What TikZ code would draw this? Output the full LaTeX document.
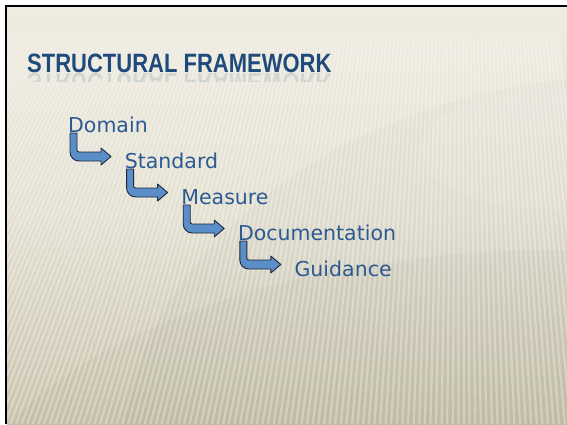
\documentclass[tikz,border=0pt]{standalone}
\usepackage{fontspec}
\usepackage{graphicx}
\usetikzlibrary{fadings,calc}
\newfontfamily\bodyfont{DejaVu Sans}
\newfontfamily\headfont{Liberation Sans}

\definecolor{bgtop}{HTML}{EEEBE0}
\definecolor{bgbot}{HTML}{C8C3AC}
\definecolor{headblue}{HTML}{1F4A7C}
\definecolor{textblue}{HTML}{2C5A91}
\definecolor{arrowfill}{HTML}{5B8DC8}
\definecolor{arrowline}{HTML}{1C2A3C}

\tikzset{
  stripe/.style={white, opacity=0.30, line width=2.2bp},
  item/.style={anchor=base west, inner sep=0pt, text=textblue,
               font=\bodyfont\fontsize{20.5bp}{24bp}\selectfont},
  headline/.style={anchor=base west, inner sep=0pt, text=headblue,
               font=\headfont\bfseries\fontsize{26.5bp}{30bp}\selectfont},
  bentarrow/.style={fill=arrowfill, draw=arrowline, line width=0.9bp, line join=round}
}

% bent arrow hanging below one item and pointing at the next
\newcommand{\stairarrow}[2]{%
  \path let \p1=($(#1.base west)+(2,1)$) in
    coordinate (o) at (\p1);
  \draw[bentarrow] (o)
    [rounded corners=9bp] -- ($(o)+(0,28)$) [sharp corners] -- ($(o)+(31,28)$)
    -- ($(o)+(31,32)$) -- ($(o)+(41,23.5)$) -- ($(o)+(31,15)$) -- ($(o)+(31,19)$)
    [rounded corners=2bp] -- ($(o)+(7,19)$) [sharp corners] -- ($(o)+(7,0)$) -- cycle;
}

\begin{document}
\begin{tikzpicture}[x=1bp, y=-1bp]
\useasboundingbox (0,0) rectangle (567,424);
\fill[white] (0,0) rectangle (567,424);

% slide background
\shade[top color=bgtop, bottom color=bgbot, middle color=bgtop!70!bgbot]
  (7,7) rectangle (567,424);
\begin{scope}
  \clip (7,7) rectangle (567,424);
  \fill[black, opacity=0.02] (640,470) ellipse [x radius=520, y radius=395];
  \fill[black, opacity=0.025] (560,540) ellipse [x radius=600, y radius=290];
  \fill[white, opacity=0.08] (560,150) ellipse [x radius=140, y radius=60];
  % fan of fine stripes
  \begin{scope}
    \clip (7,28) rectangle (567,424);
    \foreach \i in {0,...,165}{
      \pgfmathsetmacro\xb{-320+\i*5.6}
      \pgfmathsetmacro\xt{\xb+0.33*(460-\xb)}
      \draw[stripe] (\xb,424) -- (\xt,28);
    }
  \end{scope}
  % stripes fade out towards the top band
  \fill[bgtop, path fading=south] (7,20) rectangle (567,52);
\end{scope}

% frame lines
\fill[black] (5,5) rectangle (567,7);
\fill[black] (5,5) rectangle (7,424);

% heading and its reflection
\node[headline] (head) at (27,72) {\scalebox{0.83}[1]{STRUCTURAL FRAMEWORK}};
\begin{scope}
  \clip (20,72.5) rectangle (345,81);
  \node[headline, opacity=0.13] (headrefl) at (27,73)
    {\scalebox{0.83}[-1]{STRUCTURAL FRAMEWORK}};
\end{scope}

% the five levels
\node[item] (domain)   at (68,132)    {Domain};
\node[item] (standard) at (124.6,168) {Standard};
\node[item] (measure)  at (181.2,204) {Measure};
\node[item] (docs)     at (237.8,240) {Documentation};
\node[item] (guidance) at (294.4,276) {Guidance};

\stairarrow{domain}{standard}
\stairarrow{standard}{measure}
\stairarrow{measure}{docs}
\stairarrow{docs}{guidance}
\end{tikzpicture}
\end{document}
